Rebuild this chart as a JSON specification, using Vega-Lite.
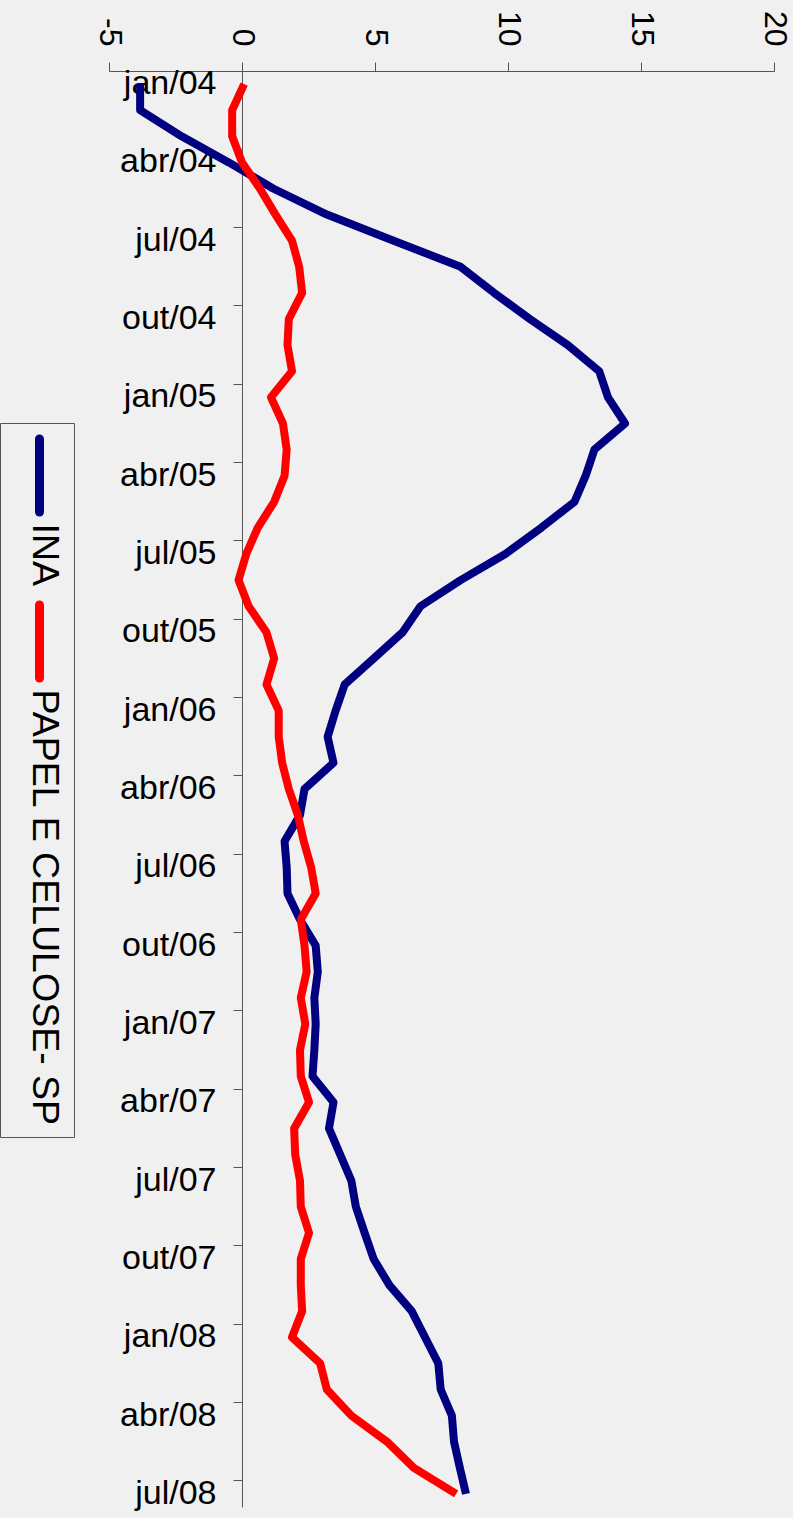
{
  "$schema": "https://vega.github.io/schema/vega-lite/v6.json",
  "autosize": "none",
  "width": 665,
  "height": 1436,
  "padding": {"left": 109, "top": 71, "right": 19, "bottom": 11},
  "background": "#f0f0f0",
  "config": {"view": {"stroke": null}, "font": "Liberation Sans"},
  "data": {"values": [
    {"i": 0, "mes": "jan/04", "INA": -3.83, "PAPEL": 0.08},
    {"i": 1, "mes": "fev/04", "INA": -3.83, "PAPEL": -0.37},
    {"i": 2, "mes": "mar/04", "INA": -2.27, "PAPEL": -0.37},
    {"i": 3, "mes": "abr/04", "INA": -0.5, "PAPEL": 0.0},
    {"i": 4, "mes": "mai/04", "INA": 1.17, "PAPEL": 0.67},
    {"i": 5, "mes": "jun/04", "INA": 3.19, "PAPEL": 1.26},
    {"i": 6, "mes": "jul/04", "INA": 5.7, "PAPEL": 1.88},
    {"i": 7, "mes": "ago/04", "INA": 8.22, "PAPEL": 2.15},
    {"i": 8, "mes": "set/04", "INA": 9.48, "PAPEL": 2.26},
    {"i": 9, "mes": "out/04", "INA": 10.82, "PAPEL": 1.76},
    {"i": 10, "mes": "nov/04", "INA": 12.25, "PAPEL": 1.71},
    {"i": 11, "mes": "dez/04", "INA": 13.43, "PAPEL": 1.88},
    {"i": 12, "mes": "jan/05", "INA": 13.76, "PAPEL": 1.09},
    {"i": 13, "mes": "fev/05", "INA": 14.4, "PAPEL": 1.54},
    {"i": 14, "mes": "mar/05", "INA": 13.25, "PAPEL": 1.68},
    {"i": 15, "mes": "abr/05", "INA": 12.92, "PAPEL": 1.6},
    {"i": 16, "mes": "mai/05", "INA": 12.5, "PAPEL": 1.21},
    {"i": 17, "mes": "jun/05", "INA": 11.24, "PAPEL": 0.59},
    {"i": 18, "mes": "jul/05", "INA": 9.9, "PAPEL": 0.16},
    {"i": 19, "mes": "ago/05", "INA": 8.22, "PAPEL": -0.13},
    {"i": 20, "mes": "set/05", "INA": 6.71, "PAPEL": 0.25},
    {"i": 21, "mes": "out/05", "INA": 6.04, "PAPEL": 0.92},
    {"i": 22, "mes": "nov/05", "INA": 4.95, "PAPEL": 1.21},
    {"i": 23, "mes": "dez/05", "INA": 3.86, "PAPEL": 0.92},
    {"i": 24, "mes": "jan/06", "INA": 3.52, "PAPEL": 1.38},
    {"i": 25, "mes": "fev/06", "INA": 3.22, "PAPEL": 1.38},
    {"i": 26, "mes": "mar/06", "INA": 3.44, "PAPEL": 1.51},
    {"i": 27, "mes": "abr/06", "INA": 2.35, "PAPEL": 1.76},
    {"i": 28, "mes": "mai/06", "INA": 2.18, "PAPEL": 2.1},
    {"i": 29, "mes": "jun/06", "INA": 1.6, "PAPEL": 2.32},
    {"i": 30, "mes": "jul/06", "INA": 1.68, "PAPEL": 2.6},
    {"i": 31, "mes": "ago/06", "INA": 1.71, "PAPEL": 2.77},
    {"i": 32, "mes": "set/06", "INA": 2.18, "PAPEL": 2.21},
    {"i": 33, "mes": "out/06", "INA": 2.77, "PAPEL": 2.35},
    {"i": 34, "mes": "nov/06", "INA": 2.85, "PAPEL": 2.43},
    {"i": 35, "mes": "dez/06", "INA": 2.72, "PAPEL": 2.21},
    {"i": 36, "mes": "jan/07", "INA": 2.77, "PAPEL": 2.38},
    {"i": 37, "mes": "fev/07", "INA": 2.72, "PAPEL": 2.18},
    {"i": 38, "mes": "mar/07", "INA": 2.65, "PAPEL": 2.21},
    {"i": 39, "mes": "abr/07", "INA": 3.44, "PAPEL": 2.52},
    {"i": 40, "mes": "mai/07", "INA": 3.27, "PAPEL": 1.96},
    {"i": 41, "mes": "jun/07", "INA": 3.69, "PAPEL": 2.0},
    {"i": 42, "mes": "jul/07", "INA": 4.11, "PAPEL": 2.18},
    {"i": 43, "mes": "ago/07", "INA": 4.28, "PAPEL": 2.21},
    {"i": 44, "mes": "set/07", "INA": 4.61, "PAPEL": 2.52},
    {"i": 45, "mes": "out/07", "INA": 4.95, "PAPEL": 2.21},
    {"i": 46, "mes": "nov/07", "INA": 5.54, "PAPEL": 2.21},
    {"i": 47, "mes": "dez/07", "INA": 6.38, "PAPEL": 2.26},
    {"i": 48, "mes": "jan/08", "INA": 6.88, "PAPEL": 1.88},
    {"i": 49, "mes": "fev/08", "INA": 7.38, "PAPEL": 2.94},
    {"i": 50, "mes": "mar/08", "INA": 7.47, "PAPEL": 3.19},
    {"i": 51, "mes": "abr/08", "INA": 7.89, "PAPEL": 4.11},
    {"i": 52, "mes": "mai/08", "INA": 7.97, "PAPEL": 5.45},
    {"i": 53, "mes": "jun/08", "INA": 8.19, "PAPEL": 6.46},
    {"i": 54, "mes": "jul/08", "INA": 8.42, "PAPEL": 8.05}
  ]},
  "transform": [{"fold": ["INA", "PAPEL"], "as": ["serie", "valor"]}],
  "mark": {"type": "line", "strokeWidth": 8, "strokeJoin": "round"},
  "encoding": {
    "y": {
      "field": "mes", "type": "ordinal",
      "sort": {"field": "i", "op": "min"},
      "scale": {"type": "band", "paddingInner": 0, "paddingOuter": 0},
      "axis": {
        "orient": "left", "offset": -133, "title": null, "grid": false,
        "values": ["jan/04","abr/04","jul/04","out/04","jan/05","abr/05","jul/05","out/05","jan/06","abr/06","jul/06","out/06","jan/07","abr/07","jul/07","out/07","jan/08","abr/08","jul/08"],
        "bandPosition": 0, "tickSize": 9, "tickColor": "#555", "domainColor": "#555",
        "labelFontSize": 34, "labelColor": "#000", "labelPadding": 17, "labelFont": "Liberation Sans"
      }
    },
    "x": {
      "field": "valor", "type": "quantitative",
      "scale": {"domain": [-5, 20], "nice": false, "zero": false},
      "axis": {
        "orient": "top", "title": null, "grid": false, "values": [-5, 0, 5, 10, 15, 20],
        "labelExpr": "'' + datum.value",
        "labelAngle": 90, "labelAlign": "right", "labelBaseline": "middle",
        "tickSize": 9, "tickColor": "#555", "domainColor": "#555",
        "labelFontSize": 32, "labelColor": "#000", "labelPadding": 16, "labelFont": "Liberation Sans"
      }
    },
    "order": {"field": "i", "type": "quantitative"},
    "color": {
      "field": "serie", "type": "nominal",
      "scale": {"domain": ["INA", "PAPEL"], "range": ["#000080", "#ff0000"]},
      "legend": {
        "title": " ", "titleFontSize": 1, "titlePadding": 12,
        "orient": "none", "legendX": -109, "legendY": 352,
        "direction": "vertical", "strokeColor": "#555", "fillColor": "#f0f0f0",
        "padding": 10, "rowPadding": 0, "labelOffset": -25,
        "symbolType": "M0,-1.46L0,1.46", "symbolStrokeWidth": 9, "symbolSize": 2500,
        "labelFontSize": 37.5, "labelColor": "#000", "labelFont": "Liberation Sans", "labelLimit": 800,
        "labelExpr": "datum.label == 'PAPEL' ? 'PAPEL E CELULOSE- SP' : datum.label",
        "encode": {
          "labels": {"update": {"angle": {"value": 90}, "align": {"value": "left"}, "baseline": {"value": "middle"}, "dx": {"value": 48}}},
          "symbols": {"update": {"strokeCap": {"value": "round"}}}
        }
      }
    }
  }
}
